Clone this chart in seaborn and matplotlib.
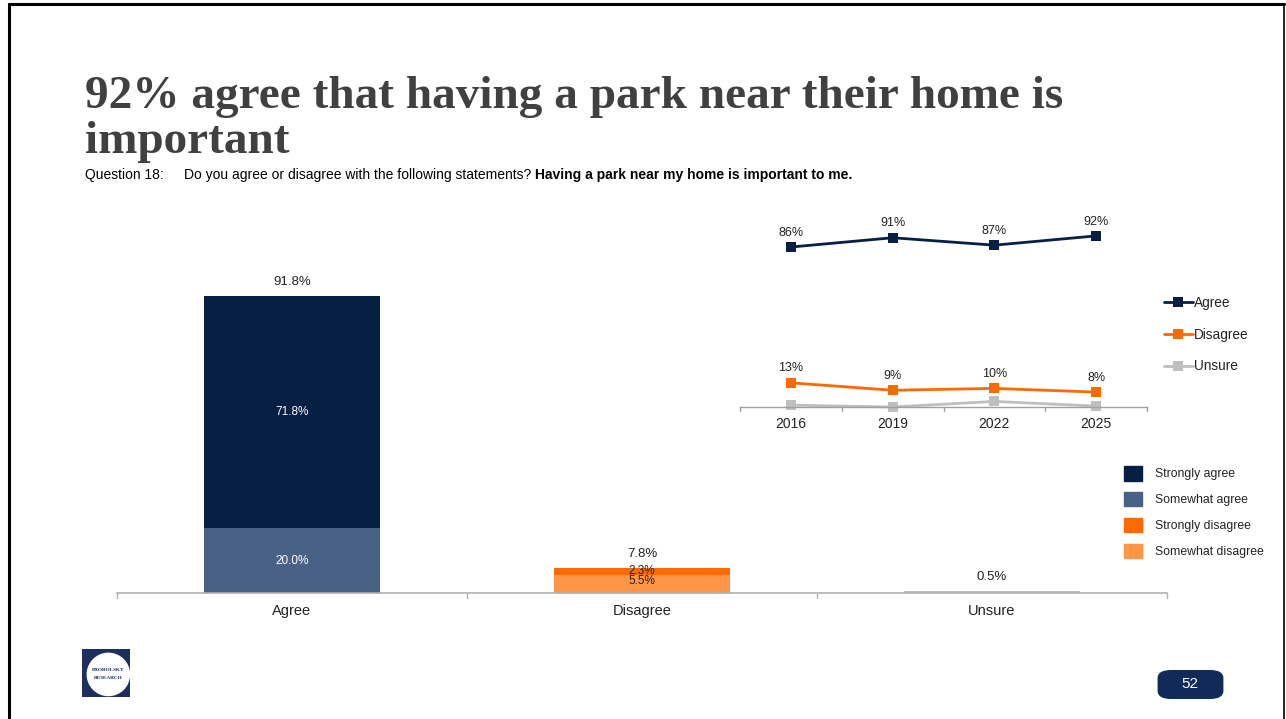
import matplotlib
matplotlib.use("Agg")
import matplotlib.pyplot as plt
import seaborn as sns
import pandas as pd
from matplotlib.lines import Line2D
from matplotlib.patches import Patch, FancyBboxPatch, Rectangle, Circle

# --- data ---
categories = ["Agree", "Disagree", "Unsure"]
strong_vals = [71.8, 2.3, 0.0]
somewhat_vals = [20.0, 5.5, 0.0]
unsure_vals = [0.0, 0.0, 0.5]

years = ["2016", "2019", "2022", "2025"]
trend_agree = [86, 91, 87, 92]
trend_disagree = [13, 9, 10, 8]
trend_unsure = [1, 0, 3, 0.5]

NAVY = "#061f42"
STEEL = "#4a6186"
ORANGE = "#ff6a00"
LORANGE = "#ff9646"
GRAY = "#bfbfbf"
TXT = "#222222"

sns.set_theme(style="white")
plt.rcParams["font.family"] = ["Liberation Sans", "DejaVu Sans"]

fig = plt.figure(figsize=(12.86, 7.19), dpi=100)
W, H = 1286, 719

def fx(px):
    return px / W

def fy(py):
    return 1 - py / H

# --- slide frame ---
fig.add_artist(Line2D([fx(9), fx(1284)], [fy(4), fy(4)], color="black", lw=2.2, transform=fig.transFigure))
fig.add_artist(Line2D([fx(9), fx(9)], [fy(4), fy(719)], color="black", lw=2.2, transform=fig.transFigure))
fig.add_artist(Line2D([fx(1284), fx(1284)], [fy(4), fy(719)], color="black", lw=1.2, transform=fig.transFigure))

# --- title ---
title_kw = dict(fontsize=34, fontweight="bold", family=["Liberation Serif", "DejaVu Serif"],
                color="#404040", va="baseline")
fig.text(fx(85), fy(108), "92% agree that having a park near their home is", **title_kw)
fig.text(fx(85), fy(153), "important", **title_kw)
fig.text(fx(85), fy(175), "Question 18:", fontsize=10, color="black", va="center")
t = fig.text(fx(184), fy(175), "Do you agree or disagree with the following statements? ",
             fontsize=10, color="black", va="center")
fig.canvas.draw()
bb = t.get_window_extent()
fig.text(bb.x1 / W, fy(175), "Having a park near my home is important to me.",
         fontsize=10, fontweight="bold", color="black", va="center")

# --- main stacked bars ---
ax = fig.add_axes([fx(117), fy(593), fx(1167) - fx(117), (593 - 269.5) / H])
ax.patch.set_alpha(0)
totals = [s + w + u for s, w, u in zip(strong_vals, somewhat_vals, unsure_vals)]
bars = pd.DataFrame({"cat": categories, "total": totals, "somewhat": somewhat_vals})
sns.barplot(data=bars, x="cat", y="total", hue="cat", palette=[NAVY, ORANGE, GRAY],
            width=0.503, legend=False, ax=ax, saturation=1, linewidth=0)
sns.barplot(data=bars, x="cat", y="somewhat", hue="cat", palette=[STEEL, LORANGE, GRAY],
            width=0.503, legend=False, ax=ax, saturation=1, linewidth=0)
ax.set_ylim(0, 100)
ax.set_xlim(-0.5, 2.5)
ax.set_xlabel("")
ax.set_ylabel("")
ax.set_yticks([])
ax.set_xticks([0, 1, 2])
ax.set_xticklabels(categories, fontsize=10.5, color=TXT)
ax.tick_params(axis="x", length=0, pad=8)
for s in ["top", "right", "left"]:
    ax.spines[s].set_visible(False)
ax.spines["bottom"].set_color("#b0b0b0")
ax.spines["bottom"].set_linewidth(1.2)
for xb in [-0.5, 0.5, 1.5, 2.5]:
    ax.plot([xb, xb], [0, -1.5], color="#b0b0b0", lw=1, clip_on=False)

# labels
for i, tot in enumerate(totals):
    ax.text(i, tot + 2.5, f"{tot:.1f}%", ha="center", va="bottom", fontsize=9.5, color=TXT)
ax.text(0, somewhat_vals[0] + strong_vals[0] / 2, f"{strong_vals[0]:.1f}%", ha="center", va="center",
        fontsize=8.5, color="white")
ax.text(0, somewhat_vals[0] / 2, f"{somewhat_vals[0]:.1f}%", ha="center", va="center",
        fontsize=8.5, color="white")
ax.text(1, somewhat_vals[1] + strong_vals[1] / 2 + 0.3, f"{strong_vals[1]:.1f}%", ha="center",
        va="center", fontsize=8.5, color=TXT)
ax.text(1, somewhat_vals[1] / 2 + 1.0, f"{somewhat_vals[1]:.1f}%", ha="center", va="center",
        fontsize=8.5, color=TXT)

bar_handles = [Patch(color=NAVY), Patch(color=STEEL), Patch(color=ORANGE), Patch(color=LORANGE)]
fig.legend(bar_handles, ["Strongly agree", "Somewhat agree", "Strongly disagree", "Somewhat disagree"],
           loc="upper left", bbox_to_anchor=(fx(1124), fy(466)), bbox_transform=fig.transFigure,
           frameon=False, borderpad=0, borderaxespad=0, fontsize=8.8, handlelength=1.45,
           handleheight=1.45, handletextpad=1.1, labelspacing=0.93, labelcolor=TXT)

# --- trend inset ---
ax2 = fig.add_axes([fx(740), fy(407), fx(1147) - fx(740), 186 / H])
ax2.patch.set_alpha(0)
trend = pd.DataFrame({
    "year": years * 3,
    "pct": trend_agree + trend_disagree + trend_unsure,
    "resp": ["Agree"] * 4 + ["Disagree"] * 4 + ["Unsure"] * 4,
})
pos = {y: i for i, y in enumerate(years)}
trend["x"] = trend["year"].map(pos)
sns.lineplot(data=trend, x="x", y="pct", hue="resp",
             hue_order=["Unsure", "Disagree", "Agree"],
             palette={"Agree": NAVY, "Disagree": ORANGE, "Unsure": GRAY},
             marker="s", markersize=7, markeredgewidth=0, linewidth=2, legend=False, ax=ax2)
for line in ax2.lines:
    line.set_clip_on(False)
ax2.set_xlim(-0.5, 3.5)
ax2.set_ylim(0, 100)
ax2.set_xlabel("")
ax2.set_ylabel("")
ax2.set_yticks([])
ax2.set_xticks(range(4))
ax2.set_xticklabels(years, fontsize=10, color=TXT)
ax2.tick_params(axis="x", length=0, pad=7)
for s in ["top", "right", "left"]:
    ax2.spines[s].set_visible(False)
ax2.spines["bottom"].set_color("#a0a0a0")
ax2.spines["bottom"].set_linewidth(1)
for xb in [-0.5, 0.5, 1.5, 2.5, 3.5]:
    ax2.plot([xb, xb], [0, -2], color="#a0a0a0", lw=1, clip_on=False)
for i in range(4):
    ax2.text(i, trend_agree[i] + 4.5, f"{trend_agree[i]}%", ha="center", va="bottom", fontsize=9, color=TXT)
    ax2.text(i, trend_disagree[i] + 4.5, f"{trend_disagree[i]}%", ha="center", va="bottom", fontsize=9, color=TXT)

line_handles = [Line2D([], [], color=c, lw=2, marker="s", markersize=7, markeredgewidth=0)
                for c in [NAVY, ORANGE, GRAY]]
fig.legend(line_handles, ["Agree", "Disagree", "Unsure"], loc="upper left",
           bbox_to_anchor=(fx(1164), fy(296)), bbox_transform=fig.transFigure,
           frameon=False, borderpad=0, borderaxespad=0, fontsize=9.8, handlelength=2.1,
           handletextpad=0.1, labelspacing=1.3, labelcolor=TXT)

# --- logo ---
logo_ax = fig.add_axes([fx(82), fy(697), fx(130) - fx(82), (697 - 649) / H])
logo_ax.set_xlim(0, 1)
logo_ax.set_ylim(0, 1)
logo_ax.axis("off")
logo_ax.add_patch(Rectangle((0, 0), 1, 1, color="#1c2f5e"))
logo_ax.add_patch(Circle((0.55, 0.47), 0.44, color="white"))
logo_ax.text(0.55, 0.56, "PROBOLSKY", ha="center", va="center", fontsize=3.8,
             family="Liberation Serif", fontweight="bold", color="#1c2f5e")
logo_ax.text(0.55, 0.40, "RESEARCH", ha="center", va="center", fontsize=3.8,
             family="Liberation Serif", fontweight="bold", color="#1c2f5e")

# --- page number ---
fig.add_artist(FancyBboxPatch((fx(1166), fy(694)), fx(1215) - fx(1166), (694 - 675) / H,
                              boxstyle="round,pad=0.006,rounding_size=0.01",
                              color="#112a57", transform=fig.transFigure))
fig.text(fx(1190), fy(684.5), "52", ha="center", va="center", fontsize=11, color="white")

fig.savefig("out.png", dpi=100)
